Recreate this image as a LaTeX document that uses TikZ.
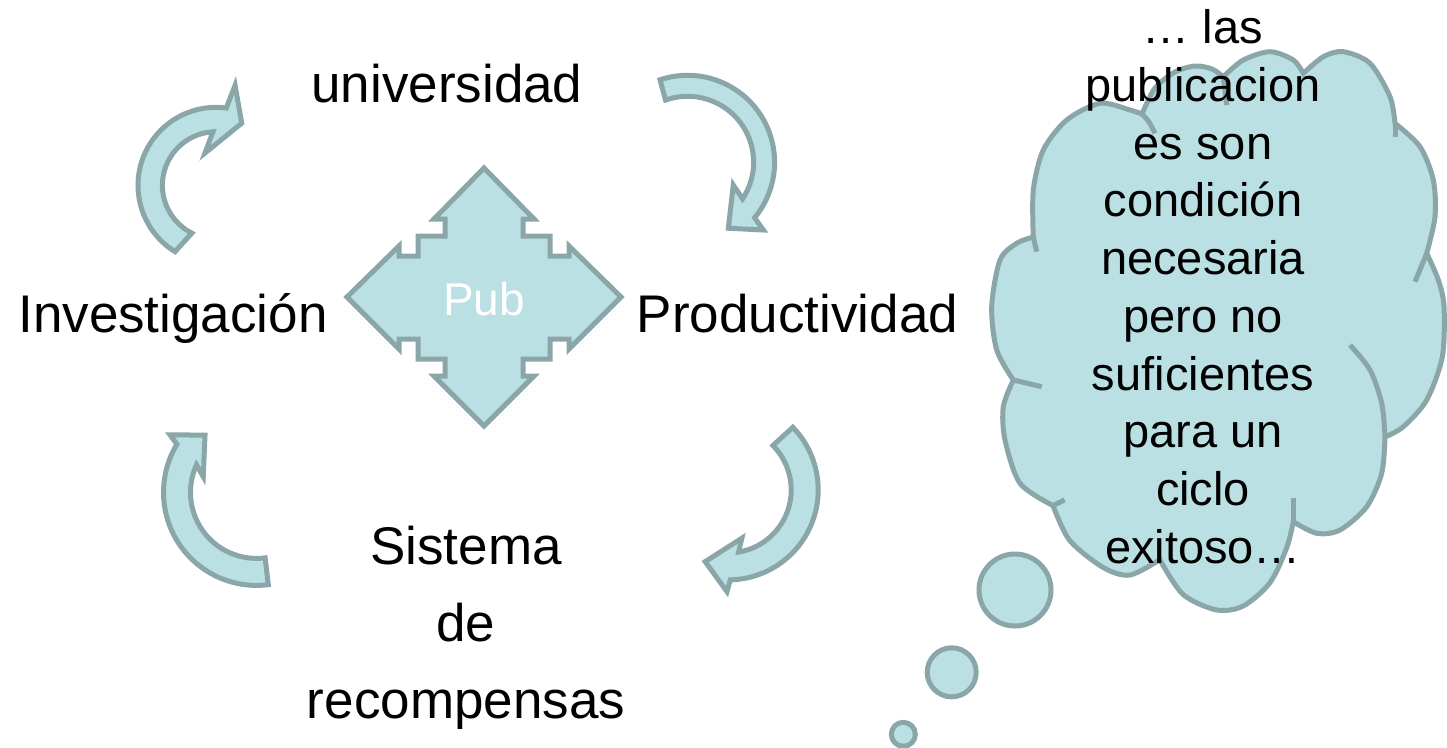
\documentclass[tikz,border=0pt]{standalone}
\usepackage{fontspec}
\setmainfont{Liberation Sans}
\definecolor{shfill}{RGB}{186,224,227}
\definecolor{shline}{RGB}{138,166,168}
\begin{document}
\begin{tikzpicture}[x=1pt,y=-1pt,
  tealshape/.style={fill=shfill,draw=shline,line width=5pt,line join=miter,miter limit=6},
  tealline/.style={draw=shline,line width=5pt},
  lbl/.style={font=\fontsize{53}{77}\selectfont,inner sep=0pt,align=center},
  cloudtxt/.style={font=\fontsize{47}{57.7}\selectfont,inner sep=0pt,align=center},
  pubtxt/.style={font=\fontsize{46}{50}\selectfont,text=white,inner sep=0pt}]
\useasboundingbox (0,0) rectangle (1447,747);

% curved arrows of the cycle
\path[tealshape,shift={(216,185.3)}] (121.7:78) arc[start angle=121.7,end angle=277.6,radius=78]
  -- (280.8:101.8) -- (292.5:67.2) -- (251.2:34.1) -- (266.8:53.6)
  arc[start angle=266.8,end angle=116.8,radius=53.6] -- cycle;
\path[tealshape,shift={(687.6,162.3)}] (-108.5:87) arc[start angle=-108.5,end angle=39.6,radius=87]
  -- (41.8:101.6) -- (58.3:77.5) -- (26.4:51) -- (33.6:66)
  arc[start angle=33.6,end angle=-109.5,radius=66] -- cycle;
\path[tealshape,shift={(728.2,489.9)}] (-44.1:90) arc[start angle=-44.1,end angle=88.7,radius=90]
  -- (90.7:101.7) -- (107.8:75.3) -- (74.2:50.2) -- (80.5:63)
  arc[start angle=80.5,end angle=-44.8,radius=63] -- cycle;
\path[tealshape,shift={(256.5,492.4)}] (82.7:93) arc[start angle=82.7,end angle=211.2,radius=93]
  -- (213.6:103.8) -- (228.1:77.1) -- (196.4:55.5) -- (204.6:66)
  arc[start angle=204.6,end angle=82.5,radius=66] -- cycle;

% central four-way arrow
\path[tealshape,shift={(484,297)}] (0,-129) -- (50,-78) -- (39,-78) -- (39,-61) -- (66,-61) -- (66,-41)
  -- (85,-41) -- (85,-51) -- (137,0) -- (85,52) -- (85,42) -- (66,42) -- (66,62) -- (39,62)
  -- (39,79) -- (50,79) -- (0,129) -- (-50,79) -- (-39,79) -- (-39,62) -- (-66,62) -- (-66,42)
  -- (-85,42) -- (-85,52) -- (-137,0) -- (-85,-51) -- (-85,-41) -- (-66,-41) -- (-66,-61)
  -- (-39,-61) -- (-39,-78) -- (-50,-78) -- cycle;
\node[pubtxt] (pub) at (484,299) {Pub};

% thought cloud
\path[tealshape]
  plot[smooth] coordinates {(1033.3,237) (1033.3,190) (1043.3,150) (1066.7,120) (1100,103.3) (1130,110) (1142,114)}
  -- plot[smooth] coordinates {(1142,114) (1155,88) (1175,72) (1195,66) (1212,69) (1223.3,76.7)}
  -- plot[smooth] coordinates {(1223.3,76.7) (1243.3,60) (1270,51.7) (1293.3,60) (1303.3,73.3)}
  -- plot[smooth] coordinates {(1303.3,73.3) (1323.3,56.7) (1343.3,51.7) (1370,63.3) (1390,96.7) (1395,123.3)}
  -- plot[smooth] coordinates {(1395,123.3) (1420,146.7) (1433.3,180) (1435,216.7) (1426.7,253.3)}
  -- plot[smooth] coordinates {(1426.7,253.3) (1438.3,280) (1444,306.7) (1442.3,356.7) (1426.7,400) (1403.3,426.7) (1385,437)}
  -- plot[smooth] coordinates {(1385,437) (1381.7,473.3) (1366.7,506.7) (1340,530) (1316.7,533.3) (1293.3,521.7)}
  -- plot[smooth] coordinates {(1293.3,521.7) (1286.6,548) (1269.9,582.8) (1243.2,606) (1216.5,609.9) (1183.1,594.5) (1159.8,559.7)}
  -- plot[smooth] coordinates {(1159.8,559.7) (1129.7,575.1) (1103,567.4) (1069.6,540.3) (1053,505.6)}
  -- plot[smooth] coordinates {(1053,505.6) (1020,483.3) (1005,440) (1003.3,406.7) (1013.3,380)}
  -- plot[smooth] coordinates {(1013.3,380) (996.7,350) (991.7,306.7) (1000,260) (1016.7,243.3) (1033.3,237)}
  -- cycle;
\draw[tealline] (1033.3,237) -- (1036.7,251.7);
\draw[tealline] plot[smooth] coordinates {(1142,114) (1149,122) (1155,133.3)};
\draw[tealline] (1223.3,76.7) -- (1226.7,105);
\draw[tealline] (1395,123.3) -- (1395,137);
\draw[tealline] (1426.7,253.3) -- (1415,281.7);
\draw[tealline] plot[smooth] coordinates {(1350,345) (1370,370) (1381.7,403.3) (1385,437)};
\draw[tealline] (1293.3,498.3) -- (1293.3,521.7);
\draw[tealline] (1053,505.6) -- (1064.6,499.8);
\draw[tealline] (1013.3,380) -- (1041.7,386.7);

% thought bubbles
\path[tealshape] (1015,590) circle[radius=36];
\path[tealshape] (951.7,672.3) circle[radius=24.5];
\path[tealshape] (903.3,734.3) circle[radius=12];

% labels
\node[lbl,anchor=base] (univ) at (447,102) {universidad};
\node[lbl,anchor=base] (inv) at (173,332) {Investigación};
\node[lbl,anchor=base] (prod) at (797.5,332) {Productividad};
\node[lbl,anchor=base] (sist) at (466,718) {Sistema\\de\\recompensas};
\node[cloudtxt,anchor=base] (cloud) at (1203,563.1) {… las\\publicacion\\es son\\condición\\necesaria\\pero no\\suficientes\\para un\\ciclo\\exitoso…};
\end{tikzpicture}
\end{document}
